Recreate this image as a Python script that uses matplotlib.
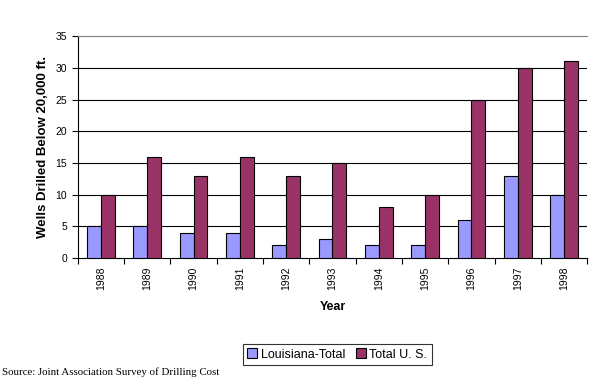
import numpy as np
import matplotlib.pyplot as plt

# Datos
years = ['1988', '1989', '1990', '1991', '1992', '1993', '1994', '1995', '1996', '1997', '1998']
louisiana = [5, 5, 4, 4, 2, 3, 2, 2, 6, 13, 10]
total_us = [10, 16, 13, 16, 13, 15, 8, 10, 25, 30, 31]

plt.rcParams['font.family'] = ['Liberation Sans', 'DejaVu Sans']

fig = plt.figure(figsize=(5.98, 3.8), dpi=100)
ax = fig.add_axes([0.130, 0.321, 0.852, 0.584])

x = np.arange(len(years))
w = 0.3
ax.bar(x - w / 2, louisiana, w, color='#9999FF', edgecolor='black', linewidth=0.8,
       label='Louisiana-Total', zorder=3)
ax.bar(x + w / 2, total_us, w, color='#993366', edgecolor='black', linewidth=0.8,
       label='Total U. S.', zorder=3)

ax.set_xlim(-0.5, len(years) - 0.5)
ax.set_ylim(0, 35)
ax.set_yticks(range(0, 36, 5))
for v in range(5, 35, 5):
    ax.axhline(v, color='black', linewidth=0.8, zorder=1)

ax.set_xticks(x)
ax.set_xticklabels(years, rotation=90, fontsize=7.5)
ax.set_xticks(np.arange(-0.5, len(years)), minor=True)
ax.tick_params(axis='x', which='major', length=0, pad=6)
ax.tick_params(axis='x', which='minor', length=4, width=0.8, direction='out')
ax.tick_params(axis='y', labelsize=7.5, length=4, width=0.8, direction='out')

ax.spines['right'].set_visible(False)
ax.spines['top'].set_color('#808080')
ax.spines['left'].set_linewidth(0.8)
ax.spines['bottom'].set_linewidth(0.8)

ax.set_ylabel('Wells Drilled Below 20,000 ft.', fontsize=9.5, fontweight='bold', labelpad=5)
ax.set_xlabel('Year', fontsize=9, fontweight='bold', labelpad=8)

leg = fig.legend(loc='center', bbox_to_anchor=(0.564, 0.067), ncol=2, fontsize=9,
                 frameon=True, fancybox=False, edgecolor='black', handlelength=0.8,
                 handleheight=0.8, handletextpad=0.3, columnspacing=0.8,
                 borderpad=0.35)
leg.get_frame().set_linewidth(0.8)

fig.text(0.003, 0.012, 'Source: Joint Association Survey of Drilling Cost',
         fontsize=7.8, family=['Liberation Serif', 'DejaVu Serif'])

fig.savefig('out.png', dpi=100)
